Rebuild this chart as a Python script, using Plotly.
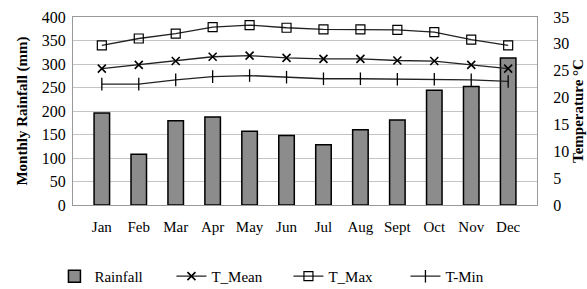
import plotly.graph_objects as go

months = ["Jan", "Feb", "Mar", "Apr", "May", "Jun", "Jul", "Aug", "Sept", "Oct", "Nov", "Dec"]
rainfall = [196, 108, 179, 187, 157, 148, 128, 160, 181, 244, 252, 313]
t_mean = [25.4, 26.1, 26.8, 27.6, 27.8, 27.4, 27.2, 27.2, 26.9, 26.8, 26.1, 25.4]
t_max = [29.7, 31.0, 31.9, 33.1, 33.5, 33.0, 32.7, 32.7, 32.6, 32.2, 30.8, 29.7]
t_min = [22.5, 22.5, 23.3, 23.9, 24.1, 23.8, 23.5, 23.5, 23.4, 23.4, 23.3, 23.0]

FONT = "Liberation Serif, Times New Roman, serif"
CLEAR = "rgba(0,0,0,0)"

fig = go.Figure()
fig.add_trace(go.Bar(x=months, y=rainfall, name="Rainfall",
                     marker=dict(color="#8c8c8c", line=dict(color="black", width=1.5))))
fig.add_trace(go.Scatter(x=months, y=t_mean, name="T_Mean", yaxis="y2", mode="lines+markers",
                         line=dict(color="#222", width=1.3),
                         marker=dict(symbol="x-thin", size=8, color="black",
                                     line=dict(color="black", width=1.6))))
fig.add_trace(go.Scatter(x=months, y=t_max, name="T_Max", yaxis="y2", mode="lines+markers",
                         line=dict(color="#222", width=1.3),
                         marker=dict(symbol="square-open", size=9, color="black",
                                     line=dict(color="black", width=1.2))))
fig.add_trace(go.Scatter(x=months, y=t_min, name="T-Min", yaxis="y2", mode="lines+markers",
                         line=dict(color="#222", width=1.3),
                         marker=dict(symbol="line-ns", size=9, color="black",
                                     line=dict(color="black", width=1.3))))

fig.update_layout(
    width=587, height=289,
    margin=dict(l=73, r=50, t=17, b=84, autoexpand=False),
    paper_bgcolor="white", plot_bgcolor="white",
    font=dict(family=FONT, size=15, color="black"),
    bargap=0.58,
    hovermode=False,
    showlegend=True,
    legend=dict(orientation="h", x=-0.04, xanchor="left", y=-0.38, yanchor="middle",
                entrywidth=72, entrywidthmode="pixels",
                font=dict(family=FONT, size=15), itemwidth=30, tracegroupgap=0),
    xaxis=dict(showline=True, linecolor="#999", mirror=True,
               ticks="outside", ticklen=8, tickcolor=CLEAR,
               tickfont=dict(family=FONT, size=15)),
    yaxis=dict(range=[0, 400], dtick=50, showgrid=True, gridcolor="#c4c4c4", gridwidth=1,
               showline=True, linecolor="#999", mirror=True, zeroline=False,
               ticks="outside", ticklen=3, tickcolor=CLEAR,
               title=dict(text="<b>Monthly Rainfall (mm)</b>", font=dict(family=FONT, size=15), standoff=10),
               tickfont=dict(family=FONT, size=16)),
    yaxis2=dict(range=[0, 35], dtick=5, overlaying="y", side="right", showgrid=False,
                zeroline=False, ticks="outside", ticklen=12, tickcolor=CLEAR,
                title=dict(text="<b>Temperature °C</b>", font=dict(family=FONT, size=15), standoff=4),
                tickfont=dict(family=FONT, size=16)),
)

fig.write_html("out.html",
               config={"displayModeBar": False},
               post_script="document.body.style.margin='0';"
                           "document.documentElement.style.overflow='hidden';"
                           "document.body.style.overflow='hidden';")
